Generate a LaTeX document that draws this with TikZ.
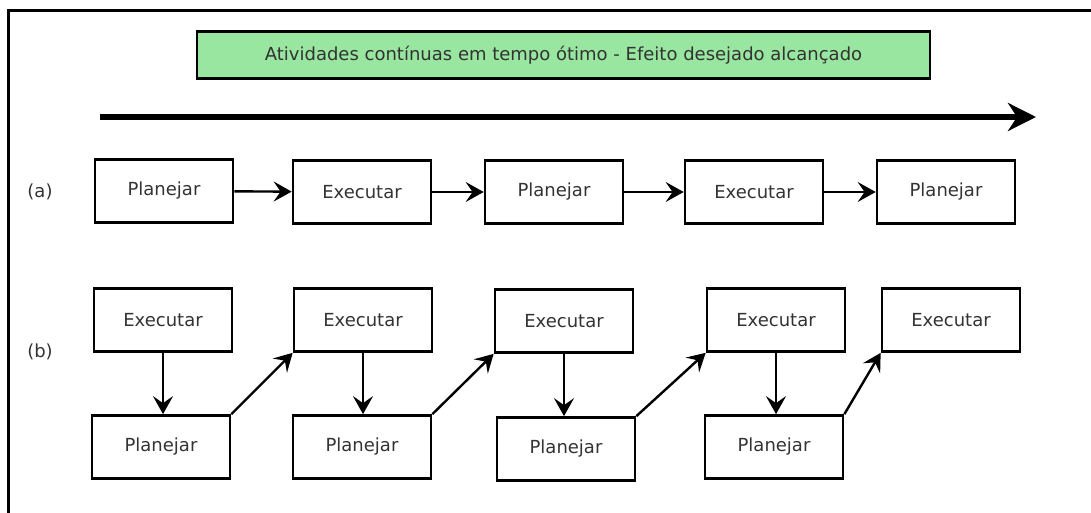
\documentclass[tikz,border=0pt]{standalone}
\usepackage{fontspec}
\setmainfont{DejaVu Sans}
\usetikzlibrary{arrows.meta}
\definecolor{titlegreen}{RGB}{152,230,160}
\begin{document}
\begin{tikzpicture}[x=0.5pt,y=-0.5pt,
  box/.style={draw,line width=1.35pt,minimum width=69pt,minimum height=31.5pt,inner sep=0pt,font=\fontsize{9pt}{10.5pt}\selectfont,text=black!80},
  conn/.style={line width=1.2pt,-{Stealth[length=9pt,width=10pt,inset=3.5pt]}},
  lbl/.style={font=\fontsize{9pt}{10.5pt}\selectfont,text=black!80}]
\useasboundingbox (0,0) rectangle (1091,513);
% partial frame
\draw[line width=1.5pt] (8,513) -- (8,11) -- (1091,11);
% title
\node[draw,line width=1.1pt,fill=titlegreen,minimum width=366.5pt,minimum height=23.5pt,inner sep=0pt,font=\fontsize{9pt}{10.5pt}\selectfont,text=black!80] (title) at (563.5,55) {Atividades contínuas em tempo ótimo - Efeito desejado alcançado};
% time arrow
\coordinate (ts) at (100,117);
\coordinate (te) at (1036,117);
\draw[line width=3pt,-{Stealth[length=14pt,width=14pt,inset=4.5pt]}] (ts) -- (te);
% row a
\node[lbl] (la) at (40,192) {(a)};
\node[box] (a1) at (164,191) {Planejar};
\node[box] (a2) at (362,192) {Executar};
\node[box] (a3) at (554,192) {Planejar};
\node[box] (a4) at (754,192) {Executar};
\node[box] (a5) at (946,192) {Planejar};
\draw[conn] (a1) -- (a2);
\draw[conn] (a2) -- (a3);
\draw[conn] (a3) -- (a4);
\draw[conn] (a4) -- (a5);
% row b
\node[lbl] (lb) at (40,352) {(b)};
\node[box] (t1) at (163,320) {Executar};
\node[box] (t2) at (363,320) {Executar};
\node[box] (t3) at (564,321) {Executar};
\node[box] (t4) at (776,320) {Executar};
\node[box] (t5) at (951,320) {Executar};
\node[box] (p1) at (161,447) {Planejar};
\node[box] (p2) at (362,447) {Planejar};
\node[box] (p3) at (566,449) {Planejar};
\node[box] (p4) at (774,447) {Planejar};
\draw[conn] (t1.south) -- (t1.south |- p1.north);
\draw[conn] (t2.south) -- (t2.south |- p2.north);
\draw[conn] (t3.south) -- (t3.south |- p3.north);
\draw[conn] (t4.south) -- (t4.south |- p4.north);
\draw[conn] (p1.north east) -- (t2.south west);
\draw[conn] (p2.north east) -- (t3.south west);
\draw[conn] (p3.north east) -- (t4.south west);
\draw[conn] (p4.north east) -- (t5.south west);
\end{tikzpicture}
\end{document}
